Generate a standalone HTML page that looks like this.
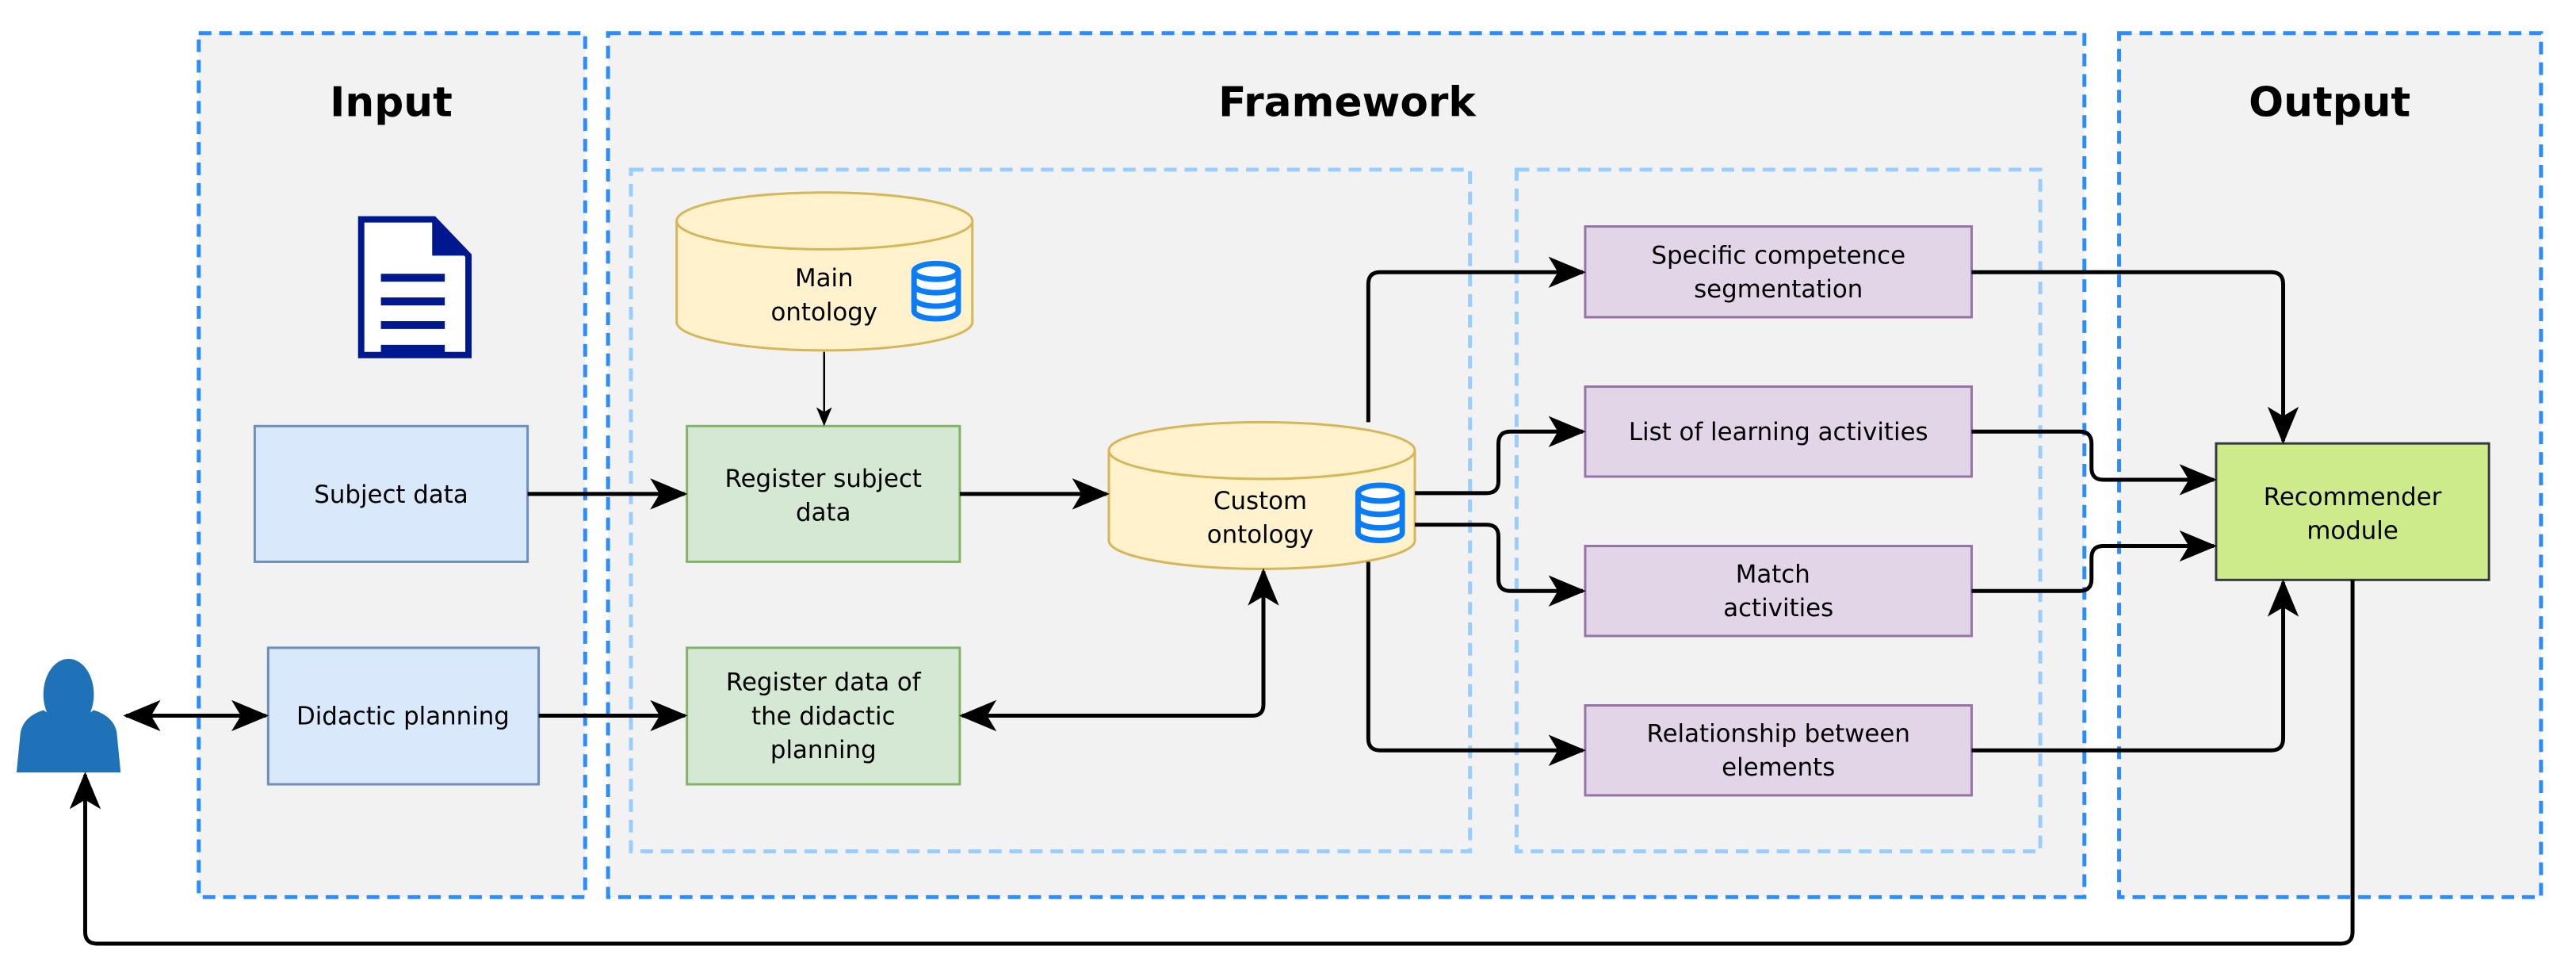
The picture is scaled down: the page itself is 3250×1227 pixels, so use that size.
<!DOCTYPE html>
<html><head><meta charset="utf-8"><style>
html,body{margin:0;padding:0;background:#fff}
svg{display:block}
text{font-family:"DejaVu Sans","Liberation Sans",sans-serif;font-size:31px;fill:#000;text-anchor:middle}
.t{font-weight:bold;font-size:52px}
</style></head><body>
<svg width="3250" height="1227" viewBox="0 0 3250 1227" xmlns="http://www.w3.org/2000/svg">
<defs>
<marker id="ar" viewBox="0 0 12 10" refX="11" refY="5" markerWidth="9.5" markerHeight="8" orient="auto-start-reverse">
<path d="M0,0 L12,5 L0,10 L3,5 Z" fill="#000"/>
</marker>
<g id="db">
<path d="M0,10 v50 a28,10 0 0 0 56,0 v-50" fill="#fff" stroke="#0a7cf5" stroke-width="7"/>
<ellipse cx="28" cy="10" rx="28" ry="10" fill="#fff" stroke="#0a7cf5" stroke-width="7"/>
<path d="M0,27 a28,10 0 0 0 56,0 M0,44 a28,10 0 0 0 56,0" fill="none" stroke="#0a7cf5" stroke-width="7"/>
</g>
</defs>
<g transform="scale(0.995)">
<g stroke="#2a8cff" stroke-width="5" stroke-dasharray="16,10" fill="#f2f2f2">
<rect x="252" y="42" width="490" height="1095"/>
<rect x="771" y="42" width="1872" height="1095"/>
<rect x="2687" y="42" width="535" height="1095"/>
</g>
<g stroke="#99ccff" stroke-width="5" stroke-dasharray="16,10" fill="none">
<rect x="800" y="215" width="1064" height="864"/>
<rect x="1923" y="215" width="664" height="864"/>
</g>
<text class="t" x="496" y="147">Input</text>
<text class="t" x="1708" y="147">Framework</text>
<text class="t" x="2954" y="147">Output</text>
<path d="M458,278 H550 L594,324 V450 H458 Z" fill="#fff" stroke="#00188f" stroke-width="8"/>
<path d="M548,278 L594,324 H548 Z" fill="#00188f"/>
<g stroke="#00188f" stroke-width="10"><line x1="483" y1="352" x2="564" y2="352"/><line x1="483" y1="382" x2="564" y2="382"/><line x1="483" y1="412" x2="564" y2="412"/><line x1="483" y1="442" x2="564" y2="442"/></g>
<ellipse cx="87" cy="880" rx="32" ry="45" fill="#2072b8"/>
<path d="M21,979 L26,928 Q30,908 55,900 Q87,922 119,900 Q144,908 148,928 L153,979 Z" fill="#2072b8"/>
<g fill="#fff2cc" stroke="#d6b656" stroke-width="3">
<path d="M858,280 v128 a187,36 0 0 0 375,0 v-128"/>
<ellipse cx="1045.5" cy="280" rx="187.5" ry="36"/>
<path d="M1406,571 v114 a194,36 0 0 0 388,0 v-114"/>
<ellipse cx="1600" cy="571" rx="194" ry="36"/>
</g>
<use href="#db" x="1159" y="334"/>
<use href="#db" x="1722" y="615"/>
<text x="1045" y="363">Main</text><text x="1045" y="406">ontology</text>
<text x="1598" y="645">Custom</text><text x="1598" y="688">ontology</text>
<g stroke-width="3">
<rect x="323" y="540" width="346" height="172" fill="#dae8fc" stroke="#6c8ebf"/>
<rect x="340" y="821" width="343" height="173" fill="#dae8fc" stroke="#6c8ebf"/>
<rect x="871" y="540" width="346" height="172" fill="#d5e8d4" stroke="#82b366"/>
<rect x="871" y="821" width="346" height="173" fill="#d5e8d4" stroke="#82b366"/>
<rect x="2010" y="287" width="490" height="115" fill="#e1d5e7" stroke="#9673a6"/>
<rect x="2010" y="490" width="490" height="114" fill="#e1d5e7" stroke="#9673a6"/>
<rect x="2010" y="692" width="490" height="114" fill="#e1d5e7" stroke="#9673a6"/>
<rect x="2010" y="894" width="490" height="114" fill="#e1d5e7" stroke="#9673a6"/>
<rect x="2810" y="562" width="346" height="173" fill="#cdeb8b" stroke="#36393d"/>
</g>
<text x="496" y="637">Subject data</text>
<text x="511" y="918">Didactic planning</text>
<text x="1044" y="617">Register subject</text><text x="1044" y="660">data</text>
<text x="1044" y="875">Register data of</text><text x="1044" y="918">the didactic</text><text x="1044" y="961">planning</text>
<text x="2255" y="334">Specific competence</text><text x="2255" y="377">segmentation</text>
<text x="2255" y="558">List of learning activities</text>
<text x="2248" y="738">Match</text><text x="2255" y="781">activities</text>
<text x="2255" y="940">Relationship between</text><text x="2255" y="983">elements</text>
<text x="2983" y="640">Recommender</text><text x="2983" y="683">module</text>
<g fill="none" stroke="#000" stroke-width="5" marker-end="url(#ar)">
<line x1="1045" y1="446" x2="1045" y2="538" stroke-width="2.5"/>
<line x1="669" y1="626" x2="868" y2="626"/>
<line x1="1217" y1="626" x2="1403" y2="626"/>
<line x1="683" y1="907" x2="868" y2="907"/>
<line x1="160" y1="907" x2="337" y2="907" marker-start="url(#ar)"/>
<path d="M1220,907 H1588 Q1602,907 1602,893 V724" marker-start="url(#ar)"/>
<path d="M1735,535 V360 Q1735,345 1750,345 H2007"/>
<path d="M1735,712 V936 Q1735,951 1750,951 H2007"/>
<path d="M1794,625 H1885 Q1900,625 1900,610 V562 Q1900,547 1915,547 H2007"/>
<path d="M1794,665 H1885 Q1900,665 1900,680 V734 Q1900,749 1915,749 H2007"/>
<path d="M2500,345 H2880 Q2895,345 2895,360 V559"/>
<path d="M2500,951 H2880 Q2895,951 2895,936 V738"/>
<path d="M2500,547 H2637 Q2652,547 2652,562 V593 Q2652,608 2667,608 H2807"/>
<path d="M2500,749 H2637 Q2652,749 2652,734 V707 Q2652,692 2667,692 H2807"/>
<path d="M2983,735 V1181 Q2983,1196 2968,1196 H123 Q108,1196 108,1181 V982"/>
</g>
</g>
</svg>
</body></html>
